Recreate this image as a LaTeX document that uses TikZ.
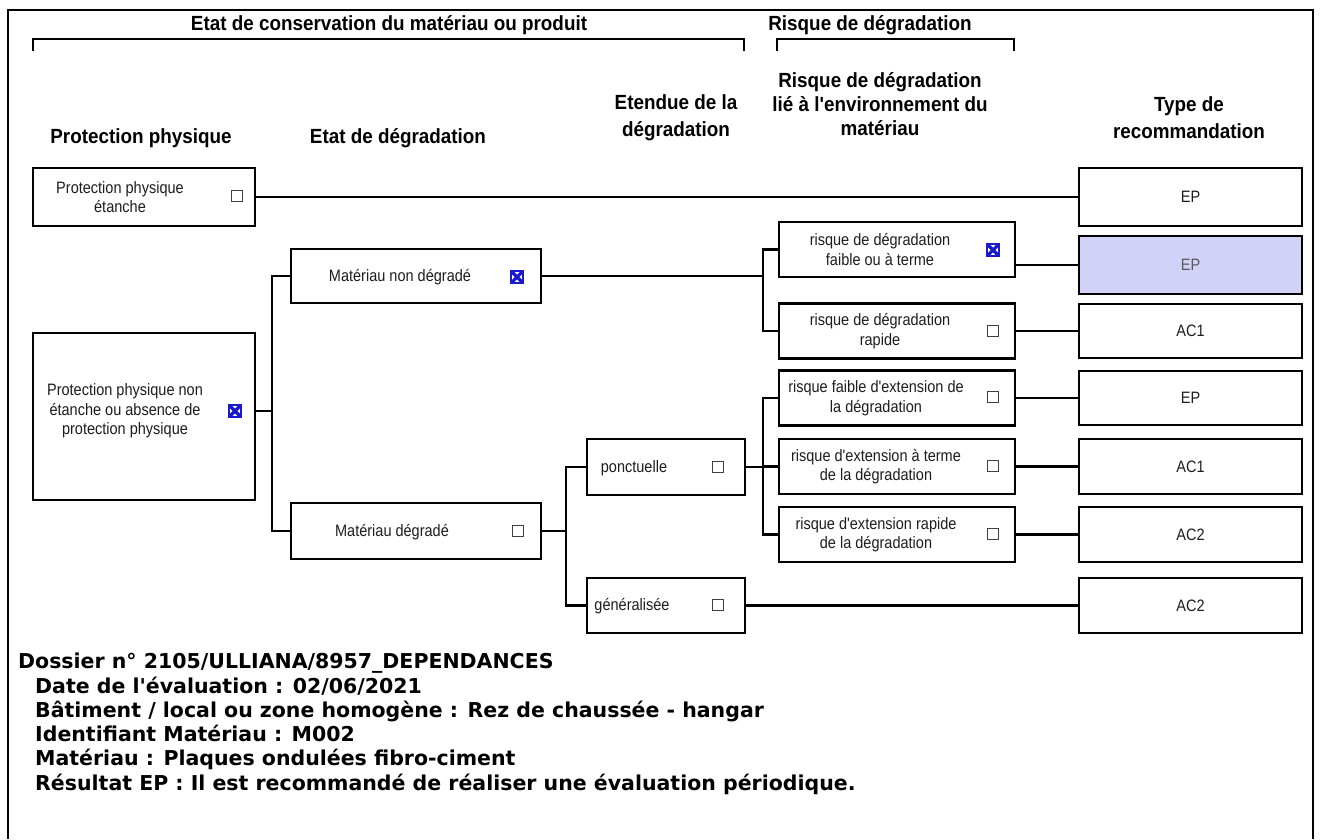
\documentclass[tikz,border=0pt]{standalone}
\usepackage{fontspec}
\setmainfont{Liberation Sans}
\newfontfamily\nfont[FakeStretch=0.88]{Liberation Sans}
\newfontfamily\hfont[FakeStretch=0.92]{Liberation Sans}
\newfontfamily\vfont{DejaVu Sans}
\definecolor{hl}{RGB}{210,210,248}
\definecolor{chkblue}{RGB}{25,25,205}
\definecolor{txt}{RGB}{30,30,30}
\begin{document}
\begin{tikzpicture}[x=1pt,y=-1pt,
  bx/.style={draw=black, line width=2.2pt, inner sep=0pt, rectangle},
  conn/.style={line width=2.2pt},
  ntext/.style={align=center, inner sep=0pt, text=txt, font=\nfont\fontsize{16.5}{19.5}\selectfont},
  htext/.style={align=center, inner sep=0pt, font=\hfont\bfseries\fontsize{20.5}{25}\selectfont},
  btext/.style={anchor=base west, inner sep=0pt, font=\vfont\bfseries\fontsize{20.5}{24}\selectfont},
  chkbox/.style={draw=black!75, line width=1.3pt, minimum size=11pt, inner sep=0pt},
  xbox/.style={draw=chkblue, line width=1.5pt, minimum size=12pt, inner sep=0pt,
    path picture={\draw[chkblue, line width=3.2pt]
      (path picture bounding box.north west) -- (path picture bounding box.south east)
      (path picture bounding box.north east) -- (path picture bounding box.south west);}},
  tbox/.style={bx, minimum width=223pt, text=txt, font=\nfont\fontsize{16.5}{19.5}\selectfont},
  rbox/.style={bx, minimum width=236pt, minimum height=55pt}
]
\useasboundingbox (0,0) rectangle (1320,839);
\fill[white] (0,0) rectangle (1320,839);
% frame
\draw[line width=2.5pt] (8,839) -- (8,10) -- (1313,10) -- (1313,839);

% top headers
\node[htext] (h1) at (389,25) {Etat de conservation du matériau ou produit};
\draw[line width=2pt] (33,51) -- (33,39) -- (744,39) -- (744,51);
\node[htext] (h2) at (870,25) {Risque de dégradation};
\draw[line width=2pt] (777,51) -- (777,39) -- (1014,39) -- (1014,51);

\node[htext] (c1) at (141,138) {Protection physique};
\node[htext] (c2) at (398,138) {Etat de dégradation};
\node[htext, font=\hfont\bfseries\fontsize{20.5}{27}\selectfont] (c3) at (676,117.5) {Etendue de la\\dégradation};
\node[htext, font=\hfont\bfseries\fontsize{20.5}{24}\selectfont] (c4) at (880,104) {Risque de dégradation\\lié à l'environnement du\\matériau};
\node[htext, font=\hfont\bfseries\fontsize{20.5}{27}\selectfont] (c5) at (1189,117.5) {Type de\\recommandation};

% column 1
\node[bx, minimum width=222pt, minimum height=58pt] (pe) at (144,197) {};
\node[ntext] (pet) at (120,197) {Protection physique\\étanche};
\node[chkbox] (pec) at (237,196) {};

\node[bx, minimum width=222pt, minimum height=167pt] (pne) at (144,416.5) {};
\node[ntext] (pnet) at (125,411) {Protection physique non\\étanche ou absence de\\protection physique};
\node[xbox] (pnec) at (235,411) {};

% column 2
\node[bx, minimum width=250pt, minimum height=54pt] (mnd) at (416,276) {};
\node[ntext] (mndt) at (400,277) {Matériau non dégradé};
\node[xbox] (mndc) at (517,277) {};

\node[bx, minimum width=250pt, minimum height=56pt] (md) at (416,531) {};
\node[ntext] (mdt) at (392,532) {Matériau dégradé};
\node[chkbox] (mdc) at (518,531) {};

% column 3
\node[bx, minimum width=158pt, minimum height=56pt] (po) at (666,467) {};
\node[ntext] (pot) at (634,468) {ponctuelle};
\node[chkbox] (poc) at (718,467) {};

\node[bx, minimum width=158pt, minimum height=55pt] (ge) at (666,605.5) {};
\node[ntext] (get) at (632,606.5) {généralisée};
\node[chkbox] (gec) at (718,605) {};

% column 4
\node[rbox] (rf) at (897,249.5) {};
\node[ntext] (rft) at (880,249.5) {risque de dégradation\\faible ou à terme};
\node[xbox] (rfc) at (993,250) {};

\node[rbox] (rr) at (897,331) {};
\node[ntext] (rrt) at (880,331) {risque de dégradation\\rapide};
\node[chkbox] (rrc) at (993,331) {};

\node[rbox] (e1) at (897,398) {};
\node[ntext] (e1t) at (876,398) {risque faible d'extension de\\la dégradation};
\node[chkbox] (e1c) at (993,397) {};

\node[rbox] (e2) at (897,466.5) {};
\node[ntext] (e2t) at (876,466.5) {risque d'extension à terme\\de la dégradation};
\node[chkbox] (e2c) at (993,466) {};

\node[rbox] (e3) at (897,534.5) {};
\node[ntext] (e3t) at (876,534.5) {risque d'extension rapide\\de la dégradation};
\node[chkbox] (e3c) at (993,534) {};

% column 5
\node[tbox, minimum height=58pt] (t1) at (1190.5,197) {EP};
\node[tbox, minimum height=58pt, fill=hl, text=black!65] (t2) at (1190.5,265) {EP};
\node[tbox, minimum height=54pt] (t3) at (1190.5,331) {AC1};
\node[tbox, minimum height=54pt] (t4) at (1190.5,398) {EP};
\node[tbox, minimum height=55pt] (t5) at (1190.5,466.5) {AC1};
\node[tbox, minimum height=55pt] (t6) at (1190.5,534.5) {AC2};
\node[tbox, minimum height=55pt] (t7) at (1190.5,605.5) {AC2};

% junction x positions
\coordinate (ja) at (272,0);
\coordinate (jb) at (763,0);
\coordinate (jc) at (566,0);

% connectors
\draw[conn] (pe.east) -- (t1.west);
\draw[conn] (pnet -| pne.east) -- (pnet -| ja);
\draw[conn] (mnd.west) -- (mnd.west -| ja) -- (md.west -| ja) -- (md.west);
\draw[conn] (mnd.east) -- (mnd.east -| jb);
\draw[conn] (rf.west) -- (rf.west -| jb) -- (rr.west -| jb) -- (rr.west);
\draw[conn] (t2.west -| rf.east) -- (t2.west);
\draw[conn] (rr.east) -- (t3.west);
\draw[conn] (md.east) -- (md.east -| jc);
\draw[conn] (po.west) -- (po.west -| jc) -- (ge.west -| jc) -- (ge.west);
\draw[conn] (po.east) -- (po.east -| jb);
\draw[conn] (e1.west) -- (e1.west -| jb) -- (e3.west -| jb) -- (e3.west);
\draw[conn] (e2.west -| jb) -- (e2.west);
\draw[conn] (e1.east) -- (t4.west);
\draw[conn] (e2.east) -- (t5.west);
\draw[conn] (e3.east) -- (t6.west);
\draw[conn] (ge.east) -- (t7.west);

% bottom text
\node[btext] (b1) at (18,668) {Dossier n° 2105/ULLIANA/8957\_DEPENDANCES};
\node[btext] (b2) at (35,693) {Date de l'évaluation : 02/06/2021};
\node[btext] (b3) at (35,717) {Bâtiment / local ou zone homogène : Rez de chaussée - hangar};
\node[btext] (b4) at (35,741) {Identifiant Matériau : M002};
\node[btext] (b5) at (35,765) {Matériau : Plaques ondulées fibro-ciment};
\node[btext] (b6) at (35,790) {Résultat EP : Il est recommandé de réaliser une évaluation périodique.};
\end{tikzpicture}
\end{document}
